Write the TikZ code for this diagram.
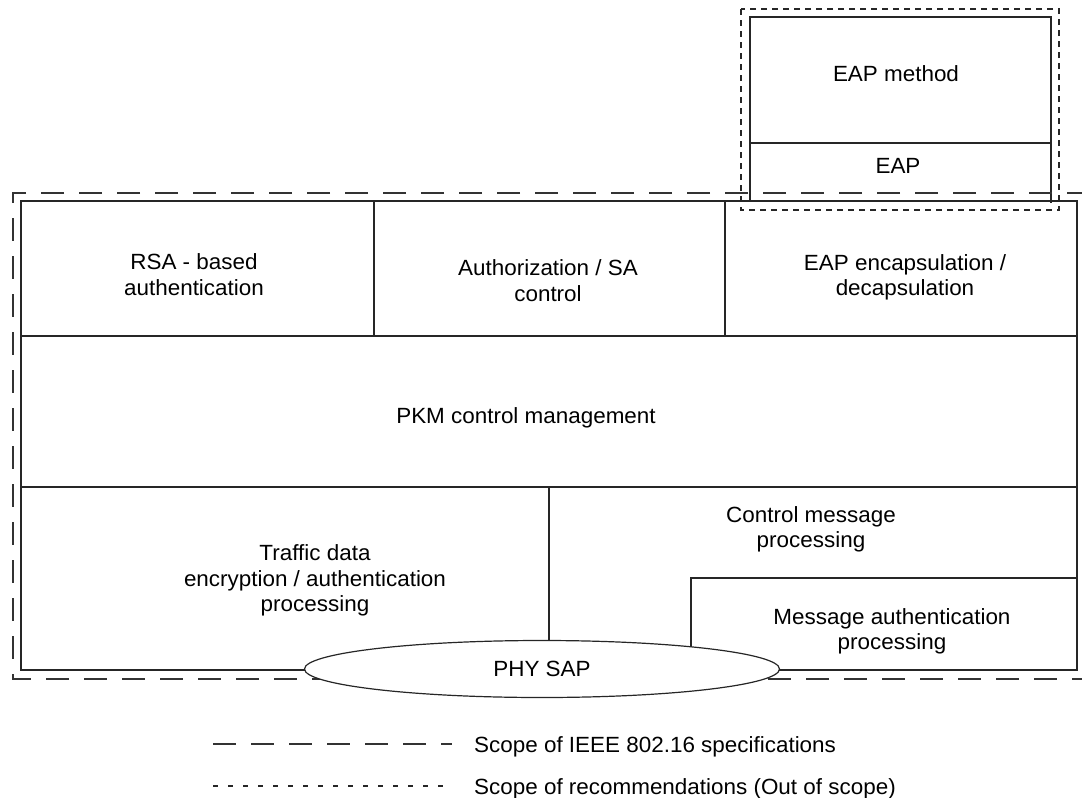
\documentclass[tikz,border=0pt]{standalone}
\usepackage{fontspec}
\setmainfont[FakeStretch=1.02]{Liberation Sans}
\usetikzlibrary{shapes.geometric}
\begin{document}
\begin{tikzpicture}[x=1pt,y=-1pt,
  box/.style={draw=black!85,line width=1.4pt},
  label/.style={align=center,font=\fontsize{22}{25.5}\selectfont,inner sep=0pt,yshift=-2.5pt},
  ieee/.style={draw=black!80,line width=1.4pt,dash pattern=on 23pt off 15pt},
  rec/.style={draw=black!85,line width=1.4pt,dash pattern=on 6pt off 5pt}]
\useasboundingbox (0,0) rectangle (1082,798);

% EAP stack above the main frame
\draw[box] (750,201) -- (750,17) -- (1051,17) -- (1051,203);
\draw[box] (750,143) -- (1051,143);
\node[label] (eapm) at (896,71) {EAP method};
\node[label] (eap) at (898,163) {EAP};

% main protocol frame
\draw[box] (21,201) rectangle (1077,670);
\draw[box] (374,201) -- (374,336);
\draw[box] (725,201) -- (725,336);
\draw[box] (21,336) -- (1077,336);
\draw[box] (21,487) -- (1077,487);
\draw[box] (549,487) -- (549,665);
\draw[box] (691,665) -- (691,578) -- (1077,578);

\node[label] (rsa) at (194,272) {RSA - based\\authentication};
\node[label] (auth) at (548,278) {Authorization / SA\\control};
\node[label] (encap) at (905,275) {EAP encapsulation /\\decapsulation};
\node[label] (pkm) at (526,415) {PKM control management};
\node[label] (traffic) at (315,578) {Traffic data\\encryption / authentication\\processing};
\node[label] (ctrl) at (811,527) {Control message\\processing};
\node[label] (mauth) at (892,629) {Message authentication\\processing};

% scope outlines
\draw[ieee] (1090,193) -- (13,193) -- (13,679) -- (1090,679);
\draw[rec] (741,9) rectangle (1059,210);

% service access point
\node[ellipse,draw=black!85,line width=1.2pt,fill=white,minimum width=475pt,minimum height=57pt,inner sep=0pt,
  font=\fontsize{22}{25.5}\selectfont] (phy) at (542,669) {PHY SAP};

% legend
\coordinate (l1a) at (213,744);
\coordinate (l1b) at (452,744);
\coordinate (l2a) at (213,786);
\coordinate (l2b) at (452,786);
\draw[ieee] (l1a) -- (l1b);
\draw[rec,dash pattern=on 5pt off 10pt] (l2a) -- (l2b);
\node[label,anchor=west] (leg1) at (474,744) {Scope of IEEE 802.16 specifications};
\node[label,anchor=west] (leg2) at (474,786) {Scope of recommendations (Out of scope)};
\end{tikzpicture}
\end{document}
